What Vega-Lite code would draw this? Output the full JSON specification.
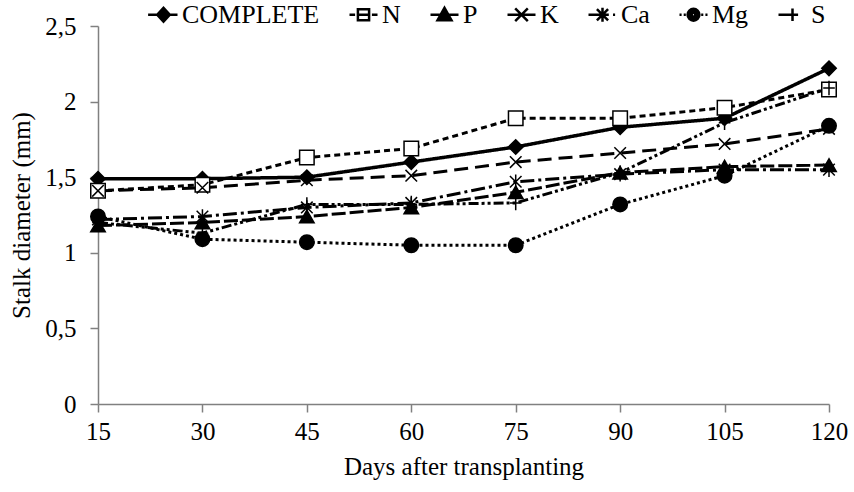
{
  "$schema": "https://vega.github.io/schema/vega-lite/v6.json",
  "width": 731,
  "height": 378,
  "autosize": {"type": "none"},
  "padding": {"left": 98, "top": 26, "right": 25, "bottom": 88},
  "background": "white",
  "config": {
    "view": {"stroke": null},
    "font": "Liberation Serif",
    "axis": {
      "labelFont": "Liberation Serif",
      "titleFont": "Liberation Serif",
      "labelFontSize": 25,
      "titleFontSize": 25,
      "titleFontWeight": "normal",
      "labelColor": "black",
      "titleColor": "black",
      "domainColor": "#808080",
      "domainWidth": 1.5,
      "tickColor": "#808080",
      "tickWidth": 1.5,
      "tickSize": 8,
      "grid": false
    },
    "legend": {
      "labelFont": "Liberation Serif",
      "labelFontSize": 26,
      "labelColor": "black"
    }
  },
  "data": {
    "values": [
      {"day": 15, "series": "COMPLETE", "value": 1.49},
      {"day": 30, "series": "COMPLETE", "value": 1.49},
      {"day": 45, "series": "COMPLETE", "value": 1.50},
      {"day": 60, "series": "COMPLETE", "value": 1.60},
      {"day": 75, "series": "COMPLETE", "value": 1.70},
      {"day": 90, "series": "COMPLETE", "value": 1.83},
      {"day": 105, "series": "COMPLETE", "value": 1.89},
      {"day": 120, "series": "COMPLETE", "value": 2.22},
      {"day": 15, "series": "N", "value": 1.41},
      {"day": 30, "series": "N", "value": 1.45},
      {"day": 45, "series": "N", "value": 1.63},
      {"day": 60, "series": "N", "value": 1.69},
      {"day": 75, "series": "N", "value": 1.89},
      {"day": 90, "series": "N", "value": 1.89},
      {"day": 105, "series": "N", "value": 1.96},
      {"day": 120, "series": "N", "value": 2.08},
      {"day": 15, "series": "P", "value": 1.18},
      {"day": 30, "series": "P", "value": 1.20},
      {"day": 45, "series": "P", "value": 1.24},
      {"day": 60, "series": "P", "value": 1.30},
      {"day": 75, "series": "P", "value": 1.40},
      {"day": 90, "series": "P", "value": 1.53},
      {"day": 105, "series": "P", "value": 1.57},
      {"day": 120, "series": "P", "value": 1.58},
      {"day": 15, "series": "K", "value": 1.41},
      {"day": 30, "series": "K", "value": 1.43},
      {"day": 45, "series": "K", "value": 1.48},
      {"day": 60, "series": "K", "value": 1.51},
      {"day": 75, "series": "K", "value": 1.60},
      {"day": 90, "series": "K", "value": 1.66},
      {"day": 105, "series": "K", "value": 1.72},
      {"day": 120, "series": "K", "value": 1.82},
      {"day": 15, "series": "Ca", "value": 1.22},
      {"day": 30, "series": "Ca", "value": 1.24},
      {"day": 45, "series": "Ca", "value": 1.30},
      {"day": 60, "series": "Ca", "value": 1.33},
      {"day": 75, "series": "Ca", "value": 1.47},
      {"day": 90, "series": "Ca", "value": 1.52},
      {"day": 105, "series": "Ca", "value": 1.55},
      {"day": 120, "series": "Ca", "value": 1.55},
      {"day": 15, "series": "Mg", "value": 1.24},
      {"day": 30, "series": "Mg", "value": 1.09},
      {"day": 45, "series": "Mg", "value": 1.07},
      {"day": 60, "series": "Mg", "value": 1.05},
      {"day": 75, "series": "Mg", "value": 1.05},
      {"day": 90, "series": "Mg", "value": 1.32},
      {"day": 105, "series": "Mg", "value": 1.51},
      {"day": 120, "series": "Mg", "value": 1.84},
      {"day": 15, "series": "S", "value": 1.20},
      {"day": 30, "series": "S", "value": 1.13},
      {"day": 45, "series": "S", "value": 1.32},
      {"day": 60, "series": "S", "value": 1.32},
      {"day": 75, "series": "S", "value": 1.33},
      {"day": 90, "series": "S", "value": 1.53},
      {"day": 105, "series": "S", "value": 1.86},
      {"day": 120, "series": "S", "value": 2.09}
    ]
  },
  "encoding": {
    "x": {
      "field": "day",
      "type": "quantitative",
      "scale": {"domain": [15, 120], "nice": false, "zero": false},
      "axis": {
        "title": "Days after transplanting",
        "values": [15, 30, 45, 60, 75, 90, 105, 120],
        "labelPadding": 7,
        "titlePadding": 10,
        "labelFlush": false
      }
    },
    "y": {
      "field": "value",
      "type": "quantitative",
      "scale": {"domain": [0, 2.5], "nice": false},
      "axis": {
        "title": "Stalk diameter (mm)",
        "values": [0, 0.5, 1, 1.5, 2, 2.5],
        "labelExpr": "replace(format(datum.value, '~g'), '.', ',')",
        "labelPadding": 14,
        "titlePadding": 10,
        "labelFlush": false
      }
    }
  },
  "resolve": {"scale": {"shape": "independent"}, "legend": {"shape": "independent"}},
  "layer": [
    {
      "mark": {"type": "line", "color": "black"},
      "encoding": {
        "detail": {"field": "series", "type": "nominal"},
        "strokeDash": {
          "condition": [
            {"test": "datum.series === 'N'", "value": [6, 4]},
            {"test": "datum.series === 'P'", "value": [14, 4]},
            {"test": "datum.series === 'K'", "value": [14, 7]},
            {"test": "datum.series === 'Ca'", "value": [14, 4, 3, 4]},
            {"test": "datum.series === 'Mg'", "value": [3, 3]},
            {"test": "datum.series === 'S'", "value": [10, 3, 3, 3, 3, 3]}
          ],
          "value": [1, 0]
        },
        "strokeWidth": {
          "condition": {"test": "datum.series === 'COMPLETE'", "value": 3.5},
          "value": 3
        }
      }
    },
    {
      "mark": {"type": "point", "filled": true, "stroke": "black", "strokeWidth": 1.5, "opacity": 1, "size": 210},
      "encoding": {
        "shape": {
          "field": "series",
          "type": "nominal",
          "scale": {
            "domain": ["COMPLETE", "N", "P", "K", "Ca", "Mg", "S"],
            "range": ["diamond", "square", "triangle-up", "M-0.8,-0.8L0.8,0.8M-0.8,0.8L0.8,-0.8", "M-0.8,-0.8L0.8,0.8M-0.8,0.8L0.8,-0.8M0,-1L0,1", "circle", "M0,-1L0,1M-0.8,0L0.8,0"]
          },
          "legend": null
        },
        "fill": {
          "condition": {"test": "datum.series === 'N'", "value": "white"},
          "value": "black"
        }
      }
    },
    {
      "mark": {"type": "point", "filled": false, "color": "black", "strokeWidth": 2.5, "opacity": 0},
      "encoding": {
        "shape": {
          "field": "series",
          "type": "nominal",
          "scale": {
            "domain": ["COMPLETE", "N", "P", "K", "Ca", "Mg", "S"],
            "range": [
              "M-1.1,0L1,0M0,-0.5L0.45,0L0,0.5L-0.45,0ZM0,-0.35L0.315,0L0,0.35L-0.315,0ZM0,-0.2L0.18,0L0,0.2L-0.18,0ZM0,-0.06L0.054,0L0,0.06L-0.054,0Z",
              "M-1,0L-0.6,0M0.6,0L1,0M-0.4,0L0.4,0M-0.4,-0.4L0.4,-0.4L0.4,0.4L-0.4,0.4Z",
              "M-1,0L1,0M0,-0.5L0.5,0.4L-0.5,0.4ZM0,-0.32L0.35,0.31L-0.35,0.31ZM0,-0.14L0.2,0.22L-0.2,0.22ZM0,0.028L0.06,0.136L-0.06,0.136Z",
              "M-1,0L1,0M-0.45,-0.45L0.45,0.45M-0.45,0.45L0.45,-0.45",
              "M-1,0L0.45,0M0.75,0L0.9,0M-0.4,-0.4L0.4,0.4M-0.4,0.4L0.4,-0.4M0,-0.5L0,0.5",
              "M-1,0L-0.85,0M-0.7,0L-0.55,0M0.55,0L0.7,0M0.85,0L1,0M0.42,0A0.42,0.42 0 1,1 -0.42,0A0.42,0.42 0 1,1 0.42,0ZM0.29,0A0.29,0.29 0 1,1 -0.29,0A0.29,0.29 0 1,1 0.29,0ZM0.16,0A0.16,0.16 0 1,1 -0.16,0A0.16,0.16 0 1,1 0.16,0ZM0.05,0A0.05,0.05 0 1,1 -0.05,0A0.05,0.05 0 1,1 0.05,0Z",
              "M-1,0L0.4,0M0,-0.45L0,0.45"
            ]
          },
          "legend": {
            "title": null,
            "orient": "none",
            "legendX": 50,
            "legendY": -27,
            "direction": "horizontal",
            "columns": 7,
            "columnPadding": 24,
            "symbolSize": 784,
            "symbolStrokeWidth": 2.5,
            "symbolStrokeColor": "black",
            "symbolOpacity": 1,
            "labelOffset": 3,
            "labelFont": "Liberation Serif",
            "labelFontSize": 26,
            "labelColor": "black"
          }
        }
      }
    }
  ]
}
